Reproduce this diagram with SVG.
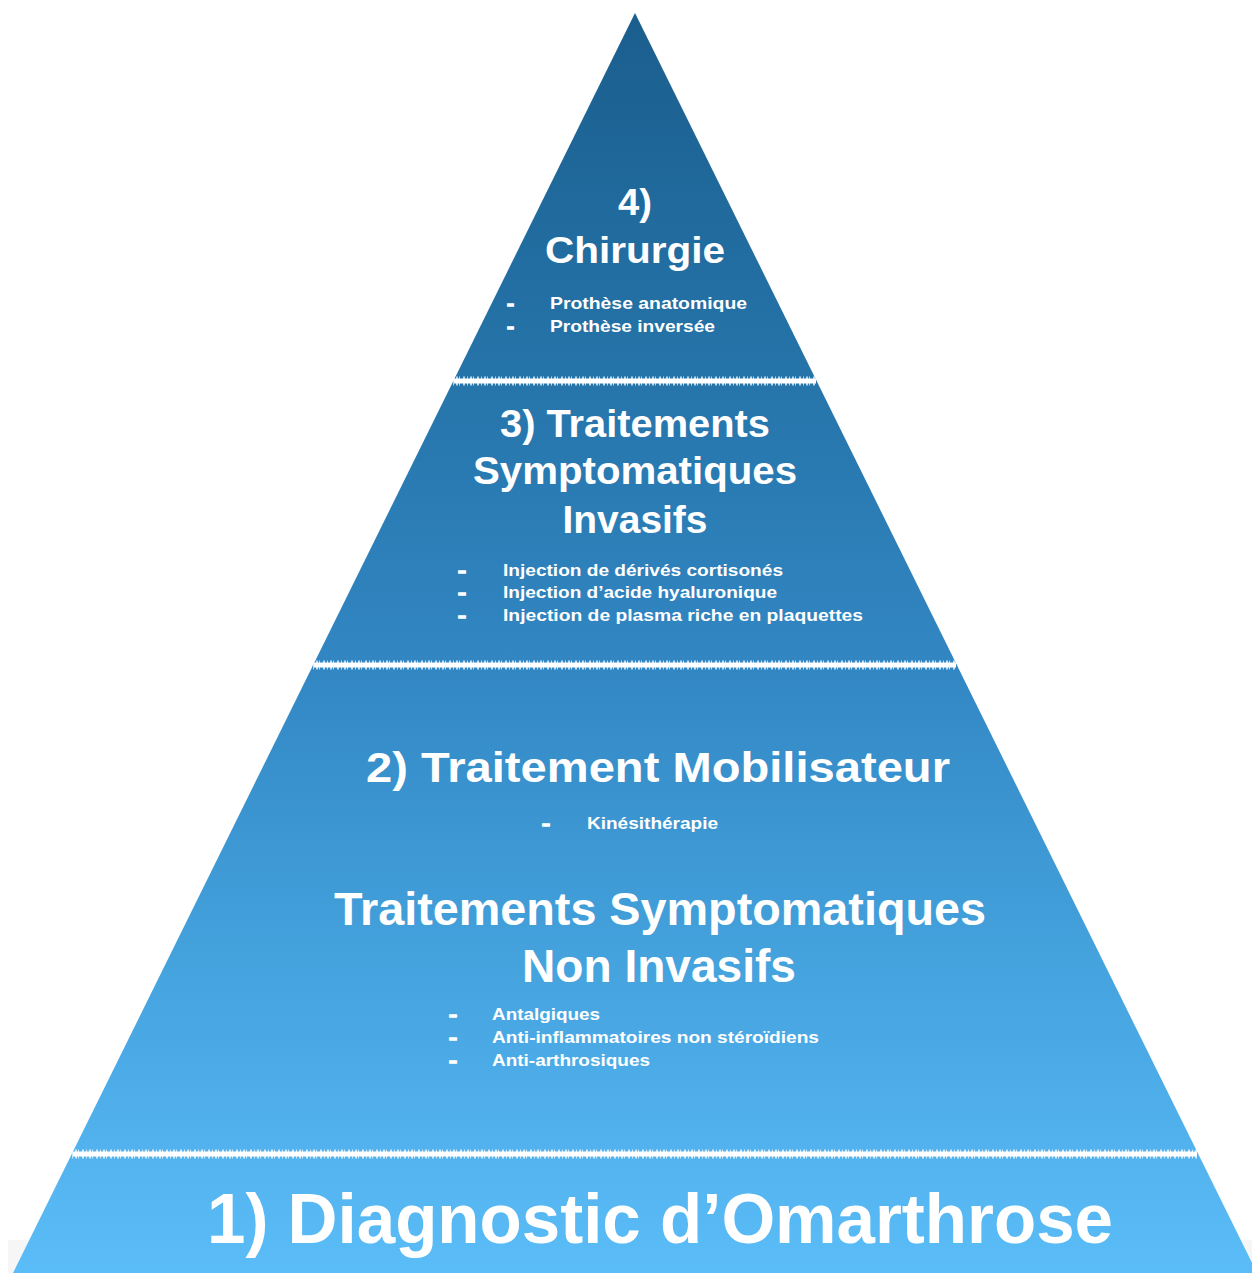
<svg xmlns="http://www.w3.org/2000/svg" width="1252" height="1273" viewBox="0 0 1252 1273">
<style>
text{font-family:"Liberation Sans",Arial,sans-serif;font-weight:bold;fill:#ffffff}
.h4{font-size:36px}
.h3{font-size:38px}
.h2{font-size:43px}
.h2b{font-size:46px}
.h1{font-size:70px}
.it{font-size:17px}
.dash{font-size:17px;stroke:#ffffff;stroke-width:1.3}
.sep-core{stroke:#ffffff;stroke-width:5;fill:none}
.sep-fuzz{stroke:#ffffff;stroke-width:9;fill:none;stroke-dasharray:1 2 2 1 1 3 2 2;opacity:0.7}
</style>
<defs>
<linearGradient id="pyr" gradientUnits="userSpaceOnUse" x1="0" y1="13" x2="0" y2="1273">
<stop offset="0" stop-color="#1a5e8d"/>
<stop offset="0.3" stop-color="#2675ab"/>
<stop offset="0.52" stop-color="#3287c3"/>
<stop offset="0.75" stop-color="#44a2dd"/>
<stop offset="1" stop-color="#5bbdf8"/>
</linearGradient>
</defs>
<rect x="0" y="0" width="1252" height="1273" fill="#ffffff"/>
<rect x="8" y="1240" width="1244" height="33" fill="#f6f6f6"/>
<polygon id="pyramid" points="635,13 1257,1273 13,1273" fill="url(#pyr)"/>
<g id="separators">
<line class="sep-core" x1="454" y1="381" x2="816" y2="381"/>
<line class="sep-fuzz" x1="453" y1="381" x2="817" y2="381"/>
<line class="sep-core" x1="314" y1="665" x2="956" y2="665"/>
<line class="sep-fuzz" x1="313" y1="665" x2="957" y2="665"/>
<line class="sep-core" x1="73" y1="1154" x2="1197" y2="1154"/>
<line class="sep-fuzz" x1="72" y1="1154" x2="1198" y2="1154"/>
</g>
<g id="level4">
<text class="h4" x="635" y="215" text-anchor="middle" textLength="34" lengthAdjust="spacingAndGlyphs">4)</text>
<text class="h4" x="635" y="263" text-anchor="middle" textLength="180" lengthAdjust="spacingAndGlyphs">Chirurgie</text>
<text class="dash" x="507" y="309" textLength="7" lengthAdjust="spacingAndGlyphs">-</text>
<text class="it" x="550" y="309" textLength="197" lengthAdjust="spacingAndGlyphs">Prothèse anatomique</text>
<text class="dash" x="507" y="332" textLength="7" lengthAdjust="spacingAndGlyphs">-</text>
<text class="it" x="550" y="332" textLength="165" lengthAdjust="spacingAndGlyphs">Prothèse inversée</text>
</g>
<g id="level3">
<text class="h3" x="635" y="437" text-anchor="middle" textLength="270" lengthAdjust="spacingAndGlyphs">3) Traitements</text>
<text class="h3" x="635" y="484" text-anchor="middle" textLength="324" lengthAdjust="spacingAndGlyphs">Symptomatiques</text>
<text class="h3" x="635" y="533" text-anchor="middle" textLength="145" lengthAdjust="spacingAndGlyphs">Invasifs</text>
<text class="dash" x="458" y="576" textLength="8" lengthAdjust="spacingAndGlyphs">-</text>
<text class="it" x="503" y="576" textLength="280" lengthAdjust="spacingAndGlyphs">Injection de dérivés cortisonés</text>
<text class="dash" x="458" y="598" textLength="8" lengthAdjust="spacingAndGlyphs">-</text>
<text class="it" x="503" y="598" textLength="274" lengthAdjust="spacingAndGlyphs">Injection d’acide hyaluronique</text>
<text class="dash" x="458" y="621" textLength="8" lengthAdjust="spacingAndGlyphs">-</text>
<text class="it" x="503" y="621" textLength="360" lengthAdjust="spacingAndGlyphs">Injection de plasma riche en plaquettes</text>
</g>
<g id="level2">
<text class="h2" x="366" y="782" textLength="584" lengthAdjust="spacingAndGlyphs">2) Traitement Mobilisateur</text>
<text class="dash" x="542" y="829" textLength="8" lengthAdjust="spacingAndGlyphs">-</text>
<text class="it" x="587" y="829" textLength="131" lengthAdjust="spacingAndGlyphs">Kinésithérapie</text>
<text class="h2b" x="334" y="925" textLength="652" lengthAdjust="spacingAndGlyphs">Traitements Symptomatiques</text>
<text class="h2b" x="522" y="982" textLength="274" lengthAdjust="spacingAndGlyphs">Non Invasifs</text>
<text class="dash" x="449" y="1020" textLength="8" lengthAdjust="spacingAndGlyphs">-</text>
<text class="it" x="492" y="1020" textLength="108" lengthAdjust="spacingAndGlyphs">Antalgiques</text>
<text class="dash" x="449" y="1043" textLength="8" lengthAdjust="spacingAndGlyphs">-</text>
<text class="it" x="492" y="1043" textLength="327" lengthAdjust="spacingAndGlyphs">Anti-inflammatoires non stéroïdiens</text>
<text class="dash" x="449" y="1066" textLength="8" lengthAdjust="spacingAndGlyphs">-</text>
<text class="it" x="492" y="1066" textLength="158" lengthAdjust="spacingAndGlyphs">Anti-arthrosiques</text>
</g>
<g id="level1">
<text class="h1" x="207" y="1243" textLength="906" lengthAdjust="spacingAndGlyphs">1) Diagnostic d’Omarthrose</text>
</g>
</svg>
